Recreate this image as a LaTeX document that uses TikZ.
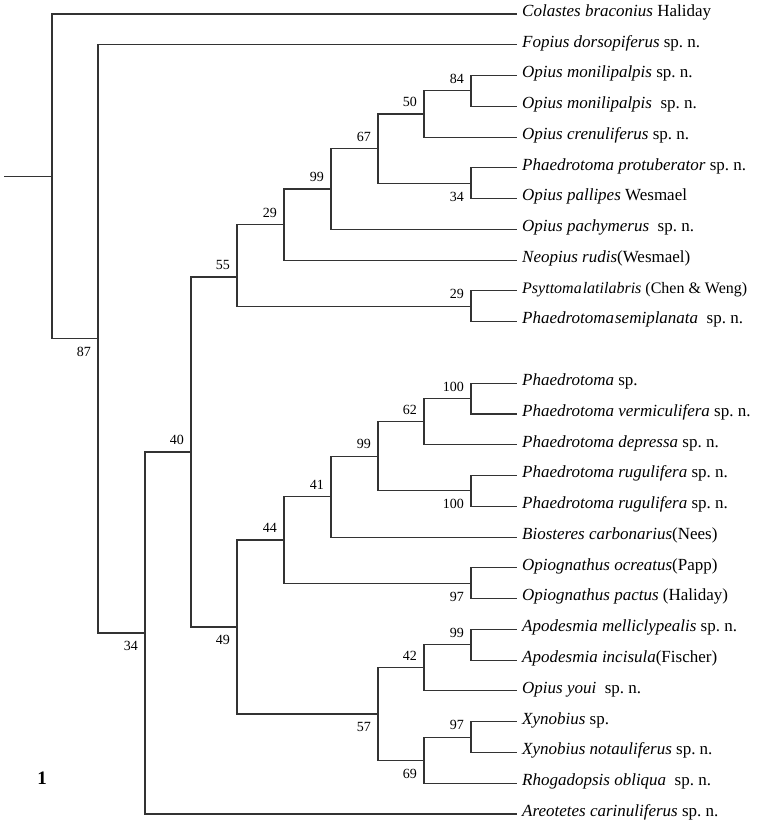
\documentclass[tikz,border=0pt]{standalone}
\usepackage{fontspec}
\setmainfont{Liberation Serif}
\frenchspacing
\tikzset{
  branch/.style  = {line width=1.1pt, black!80},
  taxon/.style   = {anchor=mid west, inner xsep=5pt, inner ysep=1pt,
                    font=\fontsize{17}{20}\selectfont},
  supup/.style   = {anchor=south east, inner sep=0pt, xshift=-7pt, yshift=7pt,
                    font=\fontsize{14}{16}\selectfont},
  supdown/.style = {anchor=north east, inner sep=0pt, xshift=-7pt, yshift=-8.5pt,
                    font=\fontsize{14}{16}\selectfont},
}
\begin{document}
\begin{tikzpicture}[x=1pt, y=-1pt]
  \useasboundingbox (0,0) rectangle (756,827);

  % inner nodes of the tree
  \coordinate (stub)  at (4,176.4);
  \coordinate (root)  at (52,176.4);
  \coordinate (n87)   at (98,338.9);
  \coordinate (n34c)  at (145,633);
  \coordinate (n40)   at (191,452);
  \coordinate (n55)   at (237,277);
  \coordinate (n29a)  at (284,224.6);
  \coordinate (n99a)  at (331,189);
  \coordinate (n67)   at (378,148.6);
  \coordinate (n50)   at (424,114);
  \coordinate (n84)   at (471,90.9);
  \coordinate (n34a)  at (471,183.2);
  \coordinate (n29b)  at (471,306.3);
  \coordinate (n49)   at (237,627);
  \coordinate (n44)   at (284,540);
  \coordinate (n41)   at (331,496.7);
  \coordinate (n99b)  at (378,456.3);
  \coordinate (n62)   at (424,421.7);
  \coordinate (n100a) at (471,398.6);
  \coordinate (n100b) at (471,490.9);
  \coordinate (n97a)  at (471,583.2);
  \coordinate (n57)   at (378,714);
  \coordinate (n42)   at (424,667.9);
  \coordinate (n99c)  at (471,644.8);
  \coordinate (n69)   at (424,760.2);
  \coordinate (n97b)  at (471,737.1);

  % taxa
  \node[taxon] (colbra)  at (517,14)    {\textit{Colastes braconius} Haliday};
  \node[taxon] (fopdor)  at (517,44.8)  {\textit{Fopius dorsopiferus} sp. n.};
  \node[taxon] (opmon1)  at (517,75.5)  {\textit{Opius monilipalpis} sp. n.};
  \node[taxon] (opmon2)  at (517,106.3) {\textit{Opius monilipalpis}~ sp. n.};
  \node[taxon] (opcre)   at (517,137.1) {\textit{Opius crenuliferus} sp. n.};
  \node[taxon] (phapro)  at (517,167.9) {\textit{Phaedrotoma protuberator} sp. n.};
  \node[taxon] (oppal)   at (517,198.6) {\textit{Opius pallipes} Wesmael};
  \node[taxon] (oppac)   at (517,229.4) {\textit{Opius pachymerus}~ sp. n.};
  \node[taxon] (neorud)  at (517,260.2) {\textit{Neopius rudis}(Wesmael)};
  \node[taxon, font=\fontsize{16}{19}\selectfont] (psylat) at (517,290.9)
       {\textit{Psyttoma\kern1pt latilabris} (Chen \& Weng)};
  \node[taxon] (phasem)  at (517,321.7) {\textit{Phaedrotoma\kern1pt semiplanata}~ sp. n.};
  \node[taxon] (phasp)   at (517,383.2) {\textit{Phaedrotoma} sp.};
  \node[taxon] (phaver)  at (517,414)   {\textit{Phaedrotoma vermiculifera} sp. n.};
  \node[taxon] (phadep)  at (517,444.8) {\textit{Phaedrotoma depressa} sp. n.};
  \node[taxon] (pharug1) at (517,475.6) {\textit{Phaedrotoma rugulifera} sp. n.};
  \node[taxon] (pharug2) at (517,506.3) {\textit{Phaedrotoma rugulifera} sp. n.};
  \node[taxon] (biocar)  at (517,537.1) {\textit{Biosteres carbonarius}(Nees)};
  \node[taxon] (opgocr)  at (517,567.9) {\textit{Opiognathus ocreatus}(Papp)};
  \node[taxon] (opgpac)  at (517,598.6) {\textit{Opiognathus pactus} (Haliday)};
  \node[taxon] (apomel)  at (517,629.4) {\textit{Apodesmia melliclypealis} sp. n.};
  \node[taxon] (apoinc)  at (517,660.2) {\textit{Apodesmia incisula}(Fischer)};
  \node[taxon] (opyou)   at (517,690.9) {\textit{Opius youi}~ sp. n.};
  \node[taxon] (xynsp)   at (517,721.7) {\textit{Xynobius} sp.};
  \node[taxon] (xynnot)  at (517,752.5) {\textit{Xynobius notauliferus} sp. n.};
  \node[taxon] (rhoobl)  at (517,783.3) {\textit{Rhogadopsis obliqua}~ sp. n.};
  \node[taxon] (arecar)  at (517,814)   {\textit{Areotetes carinuliferus} sp. n.};

  % branches
  \draw[branch] (stub) -- (root);
  \draw[branch] (root) |- (colbra.mid west);
  \draw[branch] (root) |- (n87);
  \draw[branch] (n87)  |- (fopdor.mid west);
  \draw[branch] (n87)  |- (n34c);
  \draw[branch] (n34c) |- (n40);
  \draw[branch] (n34c) |- (arecar.mid west);
  \draw[branch] (n40)  |- (n55);
  \draw[branch] (n40)  |- (n49);
  \draw[branch] (n55)  |- (n29a);
  \draw[branch] (n55)  |- (n29b);
  \draw[branch] (n29a) |- (n99a);
  \draw[branch] (n29a) |- (neorud.mid west);
  \draw[branch] (n99a) |- (n67);
  \draw[branch] (n99a) |- (oppac.mid west);
  \draw[branch] (n67)  |- (n50);
  \draw[branch] (n67)  |- (n34a);
  \draw[branch] (n50)  |- (n84);
  \draw[branch] (n50)  |- (opcre.mid west);
  \draw[branch] (n84)  |- (opmon1.mid west);
  \draw[branch] (n84)  |- (opmon2.mid west);
  \draw[branch] (n34a) |- (phapro.mid west);
  \draw[branch] (n34a) |- (oppal.mid west);
  \draw[branch] (n29b) |- (psylat.mid west);
  \draw[branch] (n29b) |- (phasem.mid west);
  \draw[branch] (n49)  |- (n44);
  \draw[branch] (n49)  |- (n57);
  \draw[branch] (n44)  |- (n41);
  \draw[branch] (n44)  |- (n97a);
  \draw[branch] (n41)  |- (n99b);
  \draw[branch] (n41)  |- (biocar.mid west);
  \draw[branch] (n99b) |- (n62);
  \draw[branch] (n99b) |- (n100b);
  \draw[branch] (n62)  |- (n100a);
  \draw[branch] (n62)  |- (phadep.mid west);
  \draw[branch] (n100a) |- (phasp.mid west);
  \draw[branch] (n100a) |- (phaver.mid west);
  \draw[branch] (n100b) |- (pharug1.mid west);
  \draw[branch] (n100b) |- (pharug2.mid west);
  \draw[branch] (n97a) |- (opgocr.mid west);
  \draw[branch] (n97a) |- (opgpac.mid west);
  \draw[branch] (n57)  |- (n42);
  \draw[branch] (n57)  |- (n69);
  \draw[branch] (n42)  |- (n99c);
  \draw[branch] (n42)  |- (opyou.mid west);
  \draw[branch] (n99c) |- (apomel.mid west);
  \draw[branch] (n99c) |- (apoinc.mid west);
  \draw[branch] (n69)  |- (n97b);
  \draw[branch] (n69)  |- (rhoobl.mid west);
  \draw[branch] (n97b) |- (xynsp.mid west);
  \draw[branch] (n97b) |- (xynnot.mid west);

  % support values
  \node[supdown] (s87)   at (n87)   {87};
  \node[supdown] (s34c)  at (n34c)  {34};
  \node[supup]   (s40)   at (n40)   {40};
  \node[supup]   (s55)   at (n55)   {55};
  \node[supup]   (s29a)  at (n29a)  {29};
  \node[supup]   (s99a)  at (n99a)  {99};
  \node[supup]   (s67)   at (n67)   {67};
  \node[supup]   (s50)   at (n50)   {50};
  \node[supup]   (s84)   at (n84)   {84};
  \node[supdown] (s34a)  at (n34a)  {34};
  \node[supup]   (s29b)  at (n29b)  {29};
  \node[supdown] (s49)   at (n49)   {49};
  \node[supup]   (s44)   at (n44)   {44};
  \node[supup]   (s41)   at (n41)   {41};
  \node[supup]   (s99b)  at (n99b)  {99};
  \node[supup]   (s62)   at (n62)   {62};
  \node[supup]   (s100a) at (n100a) {100};
  \node[supdown] (s100b) at (n100b) {100};
  \node[supdown] (s97a)  at (n97a)  {97};
  \node[supdown] (s57)   at (n57)   {57};
  \node[supup]   (s42)   at (n42)   {42};
  \node[supup]   (s99c)  at (n99c)  {99};
  \node[supdown] (s69)   at (n69)   {69};
  \node[supup]   (s97b)  at (n97b)  {97};

  \node[font=\fontsize{19}{22}\selectfont\bfseries] (fignum) at (42,778) {1};
\end{tikzpicture}
\end{document}
